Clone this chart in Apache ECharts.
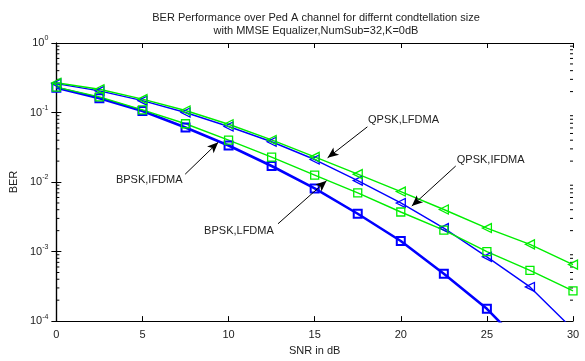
<!DOCTYPE html>
<html><head><meta charset="utf-8">
<script src="https://cdn.jsdelivr.net/npm/echarts@6/dist/echarts.min.js"></script>
<style>html,body{margin:0;padding:0;background:#fff}#c{width:585px;height:361px}</style>
</head><body><div id="c"></div>
<script>
const snr = [0, 2.5, 5, 7.5, 10, 12.5, 15, 17.5, 20, 22.5, 25, 27.5, 30];
const bpskIfdma = [0.228, 0.160, 0.105, 0.061, 0.0336, 0.0170, 0.0081, 0.0035, 0.00142, 0.00048, 0.000150, 0.000035, 0.0000067];
const bpskLfdma = [0.232, 0.168, 0.109, 0.069, 0.040, 0.0228, 0.0126, 0.0070, 0.00371, 0.00204, 0.00100, 0.000535, 0.000273];
const qpskIfdma = [0.26, 0.205, 0.148, 0.100, 0.063, 0.038, 0.0211, 0.0105, 0.0050, 0.00218, 0.00084, 0.00031, 0.000076];
const qpskLfdma = [0.268, 0.216, 0.156, 0.107, 0.0678, 0.0403, 0.0230, 0.0130, 0.0073, 0.00403, 0.00218, 0.00127, 0.00065];
const yTickExp = [0, -1, -2, -3, -4];
const xTicks = [0, 5, 10, 15, 20, 25, 30];
const minorVals = [];
for (let e = -4; e < 0; e++) for (let m = 2; m <= 9; m++) minorVals.push(m * Math.pow(10, e));
// annotations: [text, textAnchor(data), arrowTail(data), arrowHead(data)]
const annotations = [
  ['QPSK,LFDMA', [18.1, 0.077], [18.06, 0.0623], [15.75, 0.0223]],
  ['QPSK,IFDMA', [23.25, 0.0207], [23.19, 0.0170], [20.64, 0.00451]],
  ['BPSK,IFDMA', [3.46, 0.01057], [7.48, 0.01297], [9.40, 0.0374]],
  ['BPSK,LFDMA', [8.58, 0.00196], [12.87, 0.00251], [15.69, 0.01047]]
];

const chart = echarts.init(document.getElementById('c'));
const FONT = '"Liberation Sans", Arial, sans-serif';
function pair(ys) { return snr.map((x, i) => [x, ys[i]]); }
function mk(name, ys, color, symbol, lw, rot) {
  return {
    name, type: 'line', data: pair(ys), symbol, symbolSize: symbol === 'rect' ? 8 : 9,
    symbolRotate: rot || 0, showAllSymbol: true, clip: true,
    lineStyle: { color, width: lw },
    itemStyle: { color: 'transparent', borderColor: color, borderWidth: symbol === 'rect' ? (lw > 2 ? 2 : 1.3) : 1.3 },
    emphasis: { disabled: true }, animation: false, z: 3
  };
}
const arrowLines = annotations.map(a => [{ coord: a[2] }, { coord: a[3] }]);

const option = {
  animation: false,
  title: {
    text: 'BER Performance over Ped A channel for differnt condtellation size\nwith MMSE Equalizer,NumSub=32,K=0dB',
    left: 311, top: 6, textAlign: 'center',
    textStyle: { fontFamily: FONT, fontSize: 11, fontWeight: 'normal', color: '#222', lineHeight: 13.5 }
  },
  grid: { left: 53, right: 12, top: 43, bottom: 34 },
  xAxis: [{
    type: 'value', min: 0, max: 30, interval: 5,
    name: 'SNR in dB', nameLocation: 'middle', nameGap: 22,
    nameTextStyle: { fontFamily: FONT, fontSize: 11, color: '#222' },
    axisLine: { lineStyle: { color: '#000', width: 1.2 } },
    axisTick: { inside: true, length: 5, lineStyle: { color: '#000' } },
    axisLabel: { fontFamily: FONT, fontSize: 11, color: '#222', margin: 8 },
    splitLine: { show: false }
  }, {
    type: 'value', min: 0, max: 30, interval: 5, position: 'top',
    axisLine: { show: true, onZero: false, lineStyle: { color: '#000', width: 1.2 } },
    axisTick: { inside: true, length: 5, lineStyle: { color: '#000' } },
    axisLabel: { show: false }, splitLine: { show: false }
  }],
  yAxis: [{
    type: 'log', logBase: 10, min: 1e-4, max: 1,
    name: 'BER', nameLocation: 'middle', nameGap: 34,
    nameTextStyle: { fontFamily: FONT, fontSize: 11, color: '#222' },
    axisLine: { show: true, lineStyle: { color: '#000', width: 1.2 } },
    axisTick: { inside: true, length: 5, lineStyle: { color: '#000' } },
    axisLabel: {
      margin: 8,
      formatter: v => '{b|10}{s|' + Math.round(Math.log10(v)) + '}',
      rich: {
        b: { fontFamily: FONT, fontSize: 11, color: '#222' },
        s: { fontFamily: FONT, fontSize: 7, color: '#222', padding: [0, 0, 9, 0] }
      }
    },
    splitLine: { show: false }
  }, {
    type: 'log', logBase: 10, min: 1e-4, max: 1, position: 'right',
    axisLine: { show: true, lineStyle: { color: '#000', width: 1.2 } },
    axisTick: { inside: true, length: 5, lineStyle: { color: '#000' } },
    axisLabel: { show: false }, splitLine: { show: false }
  }],
  series: [
    {
      type: 'custom', name: 'minor', data: minorVals.map(v => [0, v]), silent: true, z: 1,
      clip: false,
      renderItem: (params, api) => {
        const v = api.value(1);
        const p0 = api.coord([0, v]);
        const p1 = api.coord([30, v]);
        return { type: 'group', children: [
          { type: 'line', shape: { x1: p0[0], y1: p0[1], x2: p0[0] + 3, y2: p0[1] }, style: { stroke: '#000', lineWidth: 1 } },
          { type: 'line', shape: { x1: p1[0], y1: p1[1], x2: p1[0] - 3, y2: p1[1] }, style: { stroke: '#000', lineWidth: 1 } }
        ] };
      }
    },
    mk('BPSK,IFDMA', bpskIfdma, '#0000ff', 'rect', 2.6),
    mk('QPSK,IFDMA', qpskIfdma, '#0000ff', 'triangle', 1.4, 90),
    mk('BPSK,LFDMA', bpskLfdma, '#00ee00', 'rect', 1.4),
    Object.assign(mk('QPSK,LFDMA', qpskLfdma, '#00ee00', 'triangle', 1.4, 90), {
      markLine: {
        silent: true, symbol: ['none', 'arrow'], symbolSize: [7, 11],
        label: { show: false },
        lineStyle: { color: '#000', width: 1, type: 'solid' },
        data: arrowLines, animation: false
      }
    })
  ]
};
chart.setOption(option);
const g = annotations.map(a => {
  const p = chart.convertToPixel({ xAxisIndex: 0, yAxisIndex: 0 }, a[1]);
  return { type: 'text', x: p[0], y: p[1], z: 10,
    style: { text: a[0], fontFamily: FONT, fontSize: 11, fill: '#222', textVerticalAlign: 'middle', verticalAlign: 'middle' } };
});
chart.setOption({ graphic: g });
</script>
</body></html>
